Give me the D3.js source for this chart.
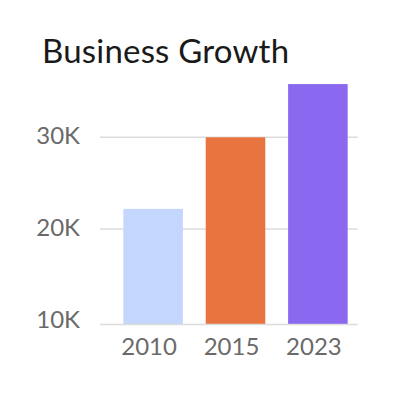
<!DOCTYPE html>
<html>
<head>
<meta charset="utf-8">
<script src="https://cdn.jsdelivr.net/npm/d3@7"></script>
<style>
  html, body { margin: 0; padding: 0; background: #fff; }
  svg { display: block; font-family: Lato, "Noto Sans", sans-serif; }
</style>
</head>
<body>
<div id="chart"></div>
<script>
// Chart data
const years = ['2010', '2015', '2023'];
const revenue = [22200, 30000, 35800];
const barColors = ['#c5d6fd', '#e8743f', '#8a69f0'];
const yTicks = [10000, 20000, 30000];
const title = 'Business Growth';

const width = 395;
const height = 395;

const svg = d3.select('#chart')
    .append('svg')
    .attr('width', width)
    .attr('height', height);

// Scales
const x = d3.scaleBand()
    .domain(years)
    .range([111.8, 359.2])
    .paddingInner(0.277)
    .paddingOuter(0.14);

const y = d3.scaleLinear()
    .domain([9600, 30000])
    .range([324.5, 137.3]);

const gridX0 = 100;
const gridX1 = 357.7;
const baseY = y(y.domain()[0]);

// Title
svg.append('text')
    .attr('x', 42)
    .attr('y', 62.5)
    .attr('font-size', 33)
    .attr('letter-spacing', 0.2)
    .attr('fill', '#1a1a1a')
    .text(title);

// Gridlines (the lowest tick sits on the baseline, so skip it)
svg.append('g')
    .selectAll('line')
    .data(yTicks.filter(d => baseY - y(d) > 10))
    .join('line')
    .attr('x1', gridX0)
    .attr('x2', gridX1)
    .attr('y1', d => y(d))
    .attr('y2', d => y(d))
    .attr('stroke', '#dcdcdc')
    .attr('stroke-width', 1.5);

// Bars
svg.append('g')
    .selectAll('rect')
    .data(years)
    .join('rect')
    .attr('x', d => x(d))
    .attr('width', x.bandwidth())
    .attr('y', (d, i) => y(revenue[i]))
    .attr('height', (d, i) => baseY - y(revenue[i]))
    .attr('fill', (d, i) => barColors[i]);

// Baseline
svg.append('line')
    .attr('x1', gridX0)
    .attr('x2', gridX1)
    .attr('y1', baseY)
    .attr('y2', baseY)
    .attr('stroke', '#dcdcdc')
    .attr('stroke-width', 1.5);

// Y axis labels
const yAxis = d3.axisLeft(y)
    .tickValues(yTicks)
    .tickSize(0)
    .tickPadding(0)
    .tickFormat(d => (d / 1000) + 'K');

svg.append('g')
    .attr('transform', 'translate(80,-1)')
    .call(yAxis)
    .call(g => g.select('.domain').remove())
    .call(g => g.selectAll('text')
        .attr('font-size', 24)
        .attr('font-family', 'Lato, "Noto Sans", sans-serif')
        .attr('fill', '#6a6a6a'));

// X axis labels
const xAxis = d3.axisBottom(x)
    .tickSize(0)
    .tickPadding(0);

svg.append('g')
    .attr('transform', 'translate(-4,0)')
    .call(xAxis)
    .call(g => g.select('.domain').remove())
    .call(g => g.selectAll('text')
        .attr('y', 355)
        .attr('dy', 0)
        .attr('font-size', 24)
        .attr('font-family', 'Lato, "Noto Sans", sans-serif')
        .attr('fill', '#6a6a6a'));
</script>
</body>
</html>
